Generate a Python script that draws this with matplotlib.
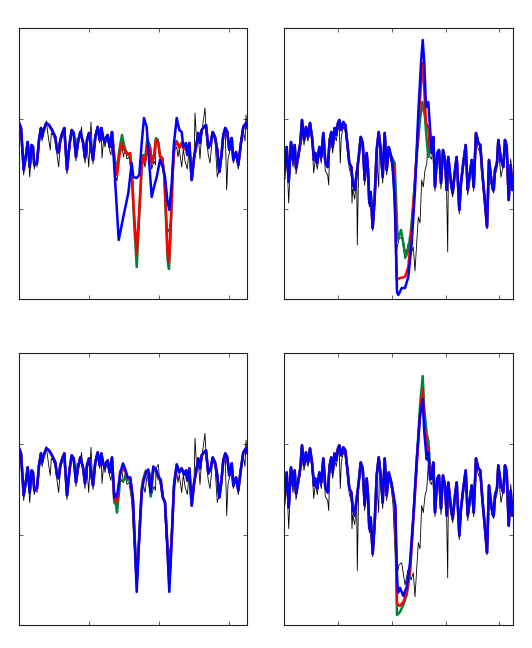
import numpy as np
import matplotlib
matplotlib.use("Agg")
import matplotlib.pyplot as plt

# ---------------- left column (same raw signal in both rows) ----------------
left_raw_t = [0, 2, 4.7, 6.3, 7.3, 8.7, 10.7, 12.7, 14, 15.3, 17, 18, 20, 22, 23, 24.7, 26, 27.3,
              29.7, 31.3, 32.3, 34, 36.3, 38, 39.7, 41.3, 43.3, 45.3, 48, 50.7, 52.7, 54.7, 57, 58,
              59, 61.3, 62.5, 64, 66, 68, 69.7, 72, 74, 76.3, 78.7, 80.7, 82.3, 83, 84.7, 86, 87.3,
              88.7, 90.7, 92, 93, 95, 96.7, 98, 100, 101.5, 103, 104.5, 106, 108, 110, 112.7, 115,
              117.7, 119, 120.3, 122.7, 124.3, 126, 128.3, 130, 131, 132.7, 135, 136.5, 137, 139.3,
              141, 143.3, 145.3, 147, 148.7, 150, 151.7, 153.7, 155.3, 157.7, 159, 160.3, 162.7,
              164.3, 166, 168.3, 170.3, 172.7, 175, 176, 177.5, 179.3, 181, 182.7, 184, 186, 187.5,
              189.3, 191, 193.7, 196, 198.3, 200.3, 202.3, 204.3, 206.3, 207.7, 209, 210.3, 212.7,
              214.3, 217, 219.3, 221.7, 224.3, 226, 227, 228]
left_raw_y = [-8, -14, -56, -40, -36, -26, -58, -30, -32, -50, -42, -48, -24, -12, -22, -14, -10, -2,
              -21, -31, -14, -16, -22, -36, -48, -24, -18, -12, -55, -28, -14, -18, -42, -19,
              -26, -16, -8, -26, -44, -24, -48, -3, -45, -22, -10, -24, -12, -39, -20, -28, -20,
              -22, -32, -36, -20, -40, -58, -62, -40, -30, -27, -38, -30, -40, -38, -56, -100,
              -118, -108, -95, -50, -40, -48, -30, -42, -28, -50, -42, -46, -24, -20,
              -40, -42, -58, -92, -114, -110, -100, -56, -32, -28, -38, -30, -48,
              -30, -42, -50, -28, -62, -42, 6, -20, -16, -40, -14, -4, 11, -20,
              -36, -44, -16, -22, -58, -50, -40, -20, -12, -71, -40, -34, -22,
              -44, -36, -50, -30, -12, -22, 4, -10]

left_pre_t = [0, 2, 4.7, 7.3, 8.7, 10.7, 12.7, 14, 15.3, 18, 20, 22, 23, 24.7, 27.3, 30, 33, 36.3,
              38, 39.7, 41.3, 43.3, 45.3, 48, 50.7, 52.7, 54.7, 57, 59, 61.3, 64, 66, 68, 70, 72,
              74, 76.3, 78.7, 80.7, 82.3, 84, 85.7, 87.3, 88.7, 90.7, 93]
left_pre_y = [-4, -9, -51, -34, -23, -48, -26, -28, -46, -44, -21, -9, -18, -11, -4, -6, -11, -18,
              -31, -34, -21, -14, -9, -51, -24, -11, -14, -38, -23, -13, -23, -39, -21, -14, -28,
              -41, -18, -8, -21, -9, -18, -24, -18, -16, -28, -13]

left_post_t = [168.3, 170.3, 172.7, 175, 177, 179.3, 181, 182.7, 185, 187, 189.3, 191.7, 193.7,
               196, 198.3, 200.3, 202.3, 204.3, 206.3, 208.3, 210.3, 212.7, 214.3, 217, 219.3,
               221.7, 224.3, 227, 228]
left_post_y = [-36, -24, -61, -39, -28, -14, -24, -11, -8, -6, -29, -24, -13,
               -18, -31, -53, -38, -16, -9, -13, -31, -19, -41, -33, -46,
               -26, -8, -4, -8]

# top-left event section
tl_blue_t = [94.7, 97.3, 99.7, 104.3, 109.3, 112.7, 114.3, 117.7, 120.3, 122.7, 125, 127.7, 129.3,
             132.7, 135, 137.7, 141, 143.7, 146, 148.3, 150.3, 152.7, 155, 157.7, 160.3, 162.7,
             164.3, 167]
tl_blue_y = [-39, -81, -121, -98, -74, -44, -58, -59, -56, -24, 1, -8, -31,
             -78, -68, -58, -41, -48, -58, -81, -91, -64, -24, 1, -11, -13,
             -28, -24]
tl_ev_t = [95.5, 98, 100.5, 103, 105, 106.5, 108, 109.5, 111, 112.7, 115, 117.7, 120.3, 122.7,
           124.3, 126, 128.3, 131, 132.7, 135, 137, 139.3, 141, 143.3, 145.3, 147, 148.7, 150,
           151.7, 153.7, 155.3, 157.7, 160.3, 162.7, 165, 167]
tl_red_y = [-40, -56, -36, -24, -30, -33, -34, -36, -34, -51, -94, -135, -91, -48,
            -38, -43, -26, -29, -44, -38, -21, -24, -38, -39, -56, -94, -135, -143,
            -108, -54, -28, -23, -29, -24, -30, -26]
tl_green_y = [-40, -50, -30, -16, -26, -31, -34, -36, -34, -53, -100, -148, -95, -46,
              -36, -41, -20, -27, -42, -36, -19, -23, -37, -39, -58, -100, -142, -150,
              -110, -54, -26, -22, -28, -24, -30, -26]

# bottom-left event section
bl_ev_t = [95.3, 97, 98, 101.3, 104, 106.3, 108.7, 111.3, 114, 117.7, 120.3, 122.7, 124.3, 127,
           129.3, 131.7, 134.3, 137, 139.3, 141.7, 143.7, 146, 148.3, 150.3, 152.7, 155, 157.7,
           160.3, 162.7, 165, 167]
bl_blue_y = [-53, -50, -52, -28, -19, -25, -33, -33, -55, -147, -92, -48, -38, -28,
             -25, -48, -22, -25, -32, -35, -53, -58, -102, -147, -95, -42, -20,
             -28, -24, -30, -26]
bl_red_y = [-55, -55, -58, -27, -25, -27, -34, -34, -57, -140, -92, -46, -36, -27,
            -27, -46, -24, -26, -33, -36, -52, -58, -100, -140, -93, -42, -22,
            -28, -24, -30, -26]
bl_green_y = [-58, -60, -68, -35, -37, -33, -36, -35, -58, -136, -90, -44, -34, -26,
              -29, -52, -26, -27, -34, -37, -52, -57, -98, -136, -92, -40, -20,
              -27, -24, -30, -26]

# ---------------- right column ----------------
right_raw_t = [0, 1, 2.7, 4.7, 7, 9, 10.7, 12, 14, 16.3, 18, 20, 22, 24, 26, 28, 29.7, 31.3, 33.3,
               35.3, 37.3, 39.3, 41.3, 43.7, 44.7, 45.7, 47.3, 48.7, 50.7, 52.3, 54, 55.3, 56.3,
               57.3, 59.3, 61.3, 63.3, 65.3, 67.3, 68, 68.7, 70.7, 72.7, 73.3, 74.7, 76.7, 78.7,
               80.7, 82.7, 84, 85.3, 86.7, 88.7, 90.7, 92.7, 94.7, 95.5, 96.7, 98.7, 100.7, 102.7,
               104.7, 107.3, 109, 110.7, 112.7, 115, 117.7, 121, 124, 127, 129.3, 131, 132.7,
               134.3, 136, 137.7, 139.3, 141, 142.7, 144.3, 146, 147.7, 149.3, 151, 153.3, 155,
               157, 159, 161, 162.7, 163.7, 164.3, 166, 167, 168.7, 171, 172.7, 175.3, 177, 179.3,
               181.7, 183.7, 186, 187.7, 189.7, 192, 194.3, 196.3, 198.3, 201, 203, 205, 207.7,
               209.7, 211, 213, 214.3, 217, 219.3, 221, 222.7, 224.7, 226.7, 228.3, 229]
right_raw_y = [-45, -60, -35, -84, -30, -48, -32, -55, -44, -30, -4, -26, -14, -22, -10, -24, -54,
               -40, -50, -34, -44, -20, -52, -56, -66, -28, -20, -34, -16, -22, -10, -8, -44, -18,
               -8, -12, -30, -50, -56, -84, -70, -80, -60, -126, -44, -24, -30, -66, -40, -58,
               -88, -80, -112, -84, -38, -68, -20, -36, -64, -20, -56, -34, -44, -60, -100, -131,
               -120, -118, -140, -125, -135, -128, -152, -124, -98, -104, -61, -68, -51, -45,
               -20, -38, -40, -25, -72, -40, -36, -70, -36, -48, -76, -133, -60, -50, -70, -78,
               -56, -44, -95, -70, -50, -32, -76, -60, -46, -72, -20, -30, -34, -58, -88, -110,
               -46, -70, -74, -56, -50, -28, -58, -46, -30, -22, -70, -40, -60, -55]

right_pre_t = [0, 0.7, 2.7, 4.7, 7, 9, 10.7, 12, 14, 16.3, 18, 20, 22, 24, 26, 28, 30, 31.3, 33.3,
               35.3, 37.3, 39.3, 41.3, 43.7, 45.7, 47.3, 48.7, 50.7, 52.3, 54, 55.3, 57.3, 59.3,
               61.3, 63.3, 65.3, 67.3, 68.7, 70.7, 72.7, 74.7, 76.7, 78.7, 80.7, 82.7, 84, 85.3,
               86.7, 88.7, 90.7, 92.7, 94.7, 96.7, 98.7, 100.7, 102.7, 104.7, 107.3]
right_pre_y = [-45, -51, -28, -63, -23, -41, -26, -49, -38, -24, -1, -21, -8, -18, -4, -18, -41,
               -34, -44, -28, -38, -14, -43, -48, -21, -13, -28, -9, -16, -4, -1, -11, -3,
               -6, -24, -44, -48, -64, -71, -54, -38, -18, -24, -61, -34, -51, -84,
               -73, -109, -78, -31, -13, -31, -58, -14, -51, -28, -38]

right_post_t = [147.7, 149.3, 151, 153.3, 155, 157, 159, 161, 162.7, 164.3, 167, 168.7, 171,
                172.7, 175.3, 177, 179.3, 181.7, 183.7, 186, 187.7, 189.7, 192, 194.3, 196.3,
                198.3, 201, 203, 205, 207.7, 209.7, 211, 213, 214.3, 217, 219.3, 221, 222.7,
                224.7, 226.7, 228.3, 229]
right_post_y = [-34, -18, -68, -34, -31, -64, -31, -41, -71, -38, -64, -74, -51,
                -38, -91, -64, -44, -26, -71, -54, -41, -68, -14, -24, -26,
                -54, -84, -108, -41, -64, -71, -51, -44, -21, -41, -48, -21, -28,
                -81, -46, -71, -60]

# top-right event section
tr_blue_t = [108.5, 110.7, 113, 114.3, 117.7, 121, 124.3, 127.7, 131, 134.3, 137, 138.7, 140.3,
             142, 144.3, 145.7]
tr_blue_y = [-45, -81, -173, -176, -169, -169, -158, -124, -71, 6, 56, 79, 56,
             12, 17, -4]
tr_red_t = [108.5, 110.7, 112.7, 116, 121, 124.3, 127.7, 131, 134.3, 137, 138.7, 140.3, 142,
            144.3, 145.7]
tr_red_y = [-40, -61, -161, -159, -158, -148, -111, -61, -8, 36, 56, 29, -4,
            -8, -28]
tr_green_t = [108.5, 110.7, 113.7, 117, 119.3, 121.7, 124.3, 127, 129.3, 132.7, 136, 138.3, 141,
              142.7, 144.3, 146]
tr_green_y = [-40, -44, -121, -111, -124, -138, -131, -111, -84, -38, -1, 17, 2,
              -21, -38, -24]

# bottom-right event section
br_ev_t = [108.5, 111.3, 113, 114, 116, 119.3, 122.7, 126, 129.3, 132.7, 136, 138.7, 140.3, 142.7,
           144.3, 146]
br_blue_y = [-45, -61, -130, -148, -143, -151, -142, -118, -72, -15, 28, 45, 12, -15,
             -8, -35]
br_red_y = [-45, -65, -158, -160, -161, -157, -148, -125, -75, -22, 30, 55, 22, 0,
            -5, -30]
br_green_y = [-45, -70, -170, -169, -167, -160, -150, -128, -75, -18, 38, 68, 35, 10,
              4, -20]

left_ticks = [70, 140, 210]
right_ticks = [54, 107.5, 162, 215]
y_ticks = [-90, 0]


def join(*parts):
    t = np.concatenate([np.asarray(p[0], float) for p in parts])
    y = np.concatenate([np.asarray(p[1], float) for p in parts])
    return t, y


panels = [
    # (ax rect, raw, green, red, blue, xlim, xticks)
    ([19 / 532, 1 - 299 / 648, 228 / 532, 271 / 648],
     (left_raw_t, left_raw_y),
     join((left_pre_t, left_pre_y), (tl_ev_t, tl_green_y), (left_post_t, left_post_y)),
     join((left_pre_t, left_pre_y), (tl_ev_t, tl_red_y), (left_post_t, left_post_y)),
     join((left_pre_t, left_pre_y), (tl_blue_t, tl_blue_y), (left_post_t, left_post_y)),
     228, left_ticks),
    ([284 / 532, 1 - 299 / 648, 229 / 532, 271 / 648],
     (right_raw_t, right_raw_y),
     join((right_pre_t, right_pre_y), (tr_green_t, tr_green_y), (right_post_t, right_post_y)),
     join((right_pre_t, right_pre_y), (tr_red_t, tr_red_y), (right_post_t, right_post_y)),
     join((right_pre_t, right_pre_y), (tr_blue_t, tr_blue_y), (right_post_t, right_post_y)),
     229, right_ticks),
    ([19 / 532, 1 - 625 / 648, 228 / 532, 272 / 648],
     (left_raw_t, left_raw_y),
     join((left_pre_t, left_pre_y), (bl_ev_t, bl_green_y), (left_post_t, left_post_y)),
     join((left_pre_t, left_pre_y), (bl_ev_t, bl_red_y), (left_post_t, left_post_y)),
     join((left_pre_t, left_pre_y), (bl_ev_t, bl_blue_y), (left_post_t, left_post_y)),
     228, left_ticks),
    ([284 / 532, 1 - 625 / 648, 229 / 532, 272 / 648],
     (right_raw_t, right_raw_y),
     join((right_pre_t, right_pre_y), (br_ev_t, br_green_y), (right_post_t, right_post_y)),
     join((right_pre_t, right_pre_y), (br_ev_t, br_red_y), (right_post_t, right_post_y)),
     join((right_pre_t, right_pre_y), (br_ev_t, br_blue_y), (right_post_t, right_post_y)),
     229, right_ticks),
]

fig = plt.figure(figsize=(5.32, 6.48), dpi=100)

for rect, raw, green, red, blue, xmax, xt in panels:
    ax = fig.add_axes(rect)
    ax.plot(raw[0], raw[1], color="black", lw=0.6)
    ax.plot(green[0], green[1], color="#00843d", lw=1.8)
    ax.plot(red[0], red[1], color="#ff0000", lw=1.8)
    ax.plot(blue[0], blue[1], color="#0000ff", lw=1.8)
    ax.set_xlim(0, xmax)
    ax.set_ylim(-180, 91)
    ax.set_xticks(xt)
    ax.set_yticks(y_ticks)
    ax.tick_params(direction="in", top=True, right=True, length=3, width=0.6,
                   labelbottom=False, labelleft=False, color="#444444")
    for s in ax.spines.values():
        s.set_linewidth(0.8)
        s.set_color("#222222")

fig.savefig("out.png", dpi=100)
